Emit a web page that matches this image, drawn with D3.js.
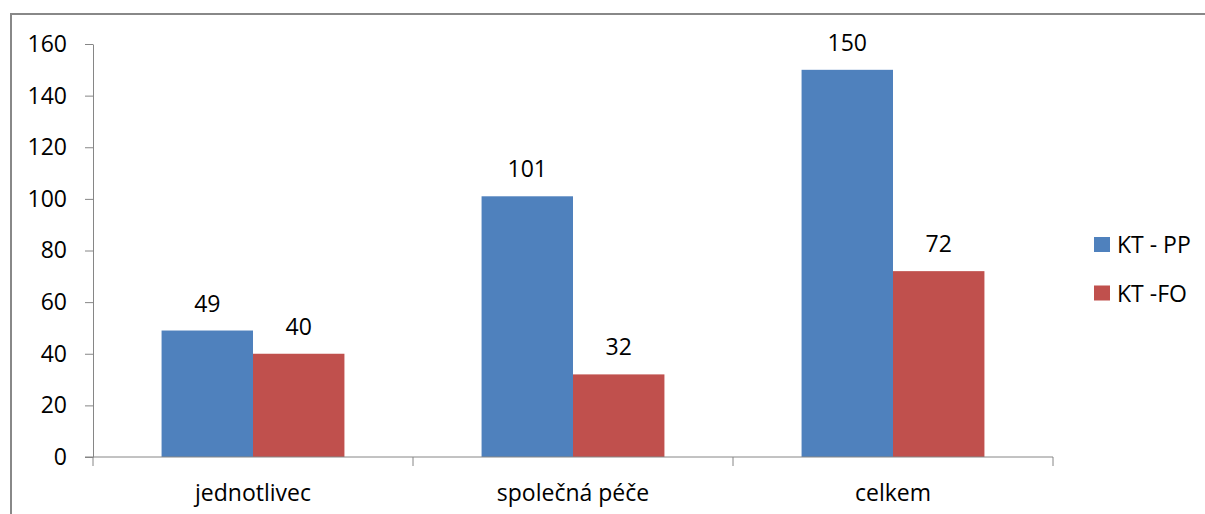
<!DOCTYPE html>
<html>
<head>
<meta charset="utf-8">
<script src="https://cdn.jsdelivr.net/npm/d3@7"></script>
<style>
  html, body { margin: 0; padding: 0; background: #fff; }
  svg text { font-family: "Open Sans", "Noto Sans", sans-serif; fill: #000; }
</style>
</head>
<body>
<svg id="chart" width="1205" height="514"></svg>
<script>
// Categories, series and tick labels
const categories = ["jednotlivec", "společná péče", "celkem"];
const seriesNames = ["KT - PP", "KT -FO"];
const seriesPP = [49, 101, 150];
const seriesFO = [40, 32, 72];
const seriesColors = ["#4F81BD", "#C0504D"];
const yTicks = [0, 20, 40, 60, 80, 100, 120, 140, 160];

const rows = categories.map((c, i) => ({ category: c, values: [seriesPP[i], seriesFO[i]] }));

const svg = d3.select("#chart");
const plot = { left: 93, right: 1053, top: 44, bottom: 457 };
const fontSize = 23;

// Outer frame of the chart area
svg.append("rect")
  .attr("x", 11).attr("y", 14)
  .attr("width", 1240).attr("height", 540)
  .attr("fill", "none")
  .attr("stroke", "#888")
  .attr("stroke-width", 2);

const x = d3.scaleBand()
  .domain(categories)
  .range([plot.left, plot.right])
  .paddingInner(0)
  .paddingOuter(0);

const inner = d3.scaleBand()
  .domain(d3.range(seriesNames.length))
  .range([0, x.bandwidth()])
  .paddingInner(0)
  .paddingOuter(0.75);

const y = d3.scaleLinear().domain([0, 160]).range([plot.bottom, plot.top]);

// Y axis
const yAxis = d3.axisLeft(y).tickValues(yTicks).tickSize(8).tickPadding(18).tickSizeOuter(0);
const gy = svg.append("g").attr("transform", `translate(${plot.left},0)`).call(yAxis);
gy.select(".domain").attr("stroke", "#868686");
gy.selectAll(".tick line").attr("stroke", "#868686");
gy.selectAll(".tick text")
  .attr("font-size", fontSize)
  .style("font-family", "'Open Sans', 'Noto Sans', sans-serif")
  .attr("fill", "#000");

// Bars
const groups = svg.append("g").selectAll("g")
  .data(rows)
  .join("g")
  .attr("transform", d => `translate(${x(d.category)},0)`);

groups.selectAll("rect")
  .data(d => d.values.map((v, i) => ({ v, i })))
  .join("rect")
  .attr("x", d => inner(d.i))
  .attr("width", inner.bandwidth())
  .attr("y", d => y(d.v))
  .attr("height", d => y(0) - y(d.v))
  .attr("fill", d => seriesColors[d.i]);

groups.selectAll("text.value")
  .data(d => d.values.map((v, i) => ({ v, i })))
  .join("text")
  .attr("class", "value")
  .attr("x", d => inner(d.i) + inner.bandwidth() / 2)
  .attr("y", d => y(d.v) - 19)
  .attr("text-anchor", "middle")
  .attr("font-size", fontSize)
  .text(d => d.v);

// X axis
const gx = svg.append("g").attr("transform", `translate(0,${plot.bottom})`);
gx.append("line")
  .attr("x1", plot.left - 8).attr("x2", plot.right)
  .attr("stroke", "#868686");
const bounds = [plot.left, ...categories.map(c => x(c) + x.bandwidth())];
gx.selectAll("line.tick")
  .data(bounds)
  .join("line")
  .attr("class", "tick")
  .attr("x1", d => d).attr("x2", d => d)
  .attr("y1", 0).attr("y2", 9)
  .attr("stroke", "#868686");
gx.selectAll("text.cat")
  .data(categories)
  .join("text")
  .attr("class", "cat")
  .attr("x", d => x(d) + x.bandwidth() / 2)
  .attr("y", 44)
  .attr("text-anchor", "middle")
  .attr("font-size", fontSize)
  .text(d => d);

// Legend
const legend = svg.append("g").attr("transform", "translate(1094,237)");
const items = legend.selectAll("g")
  .data(seriesNames)
  .join("g")
  .attr("transform", (d, i) => `translate(0,${i * 48.5})`);
items.append("rect")
  .attr("width", 16).attr("height", 15)
  .attr("fill", (d, i) => seriesColors[i]);
items.append("text")
  .attr("x", 23).attr("y", 16)
  .attr("font-size", fontSize)
  .text(d => d);
</script>
</body>
</html>
